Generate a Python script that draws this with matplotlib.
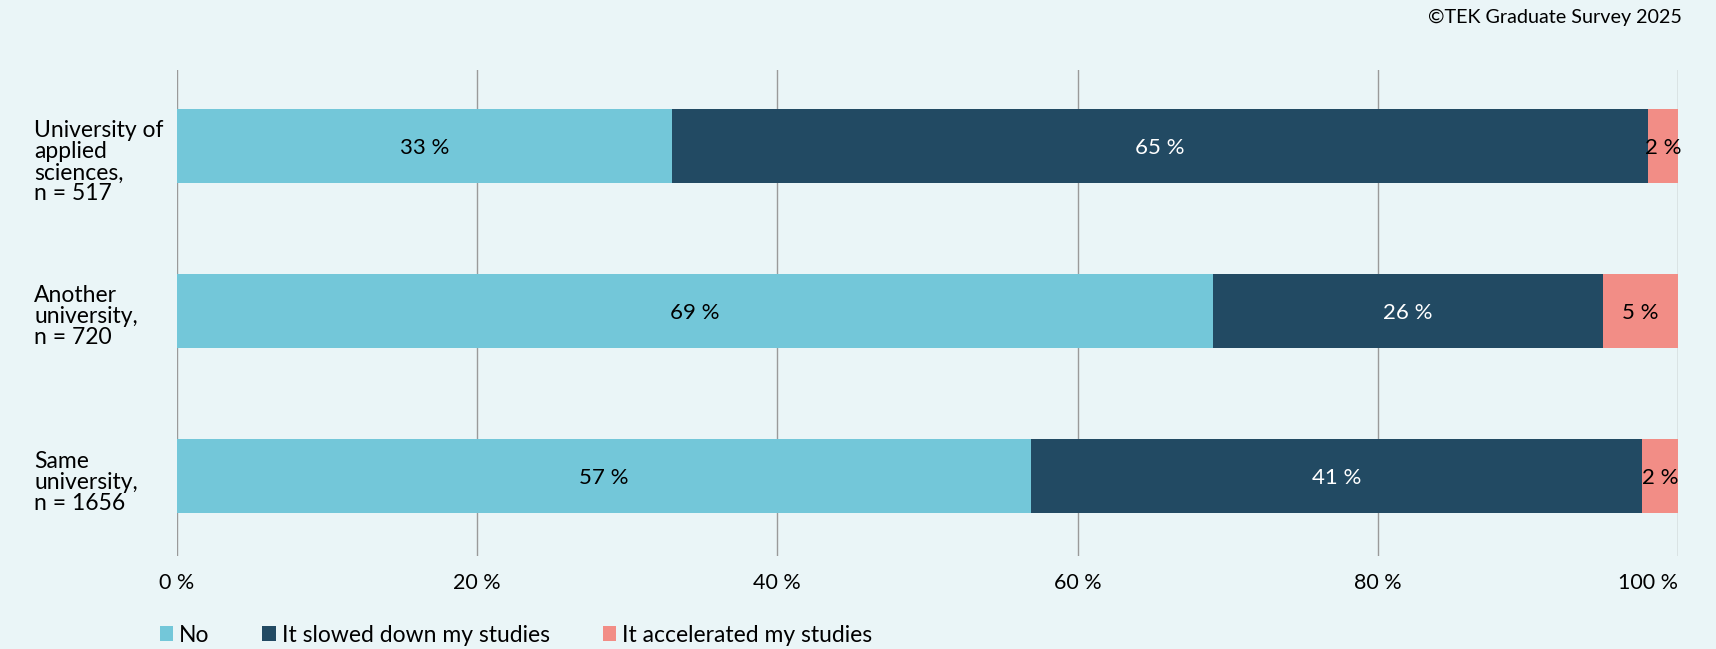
import matplotlib
matplotlib.use("Agg")
import matplotlib.pyplot as plt
from matplotlib.patches import Patch
import matplotlib.transforms as mtransforms

categories = ["University of\napplied\nsciences,\nn = 517",
              "Another\nuniversity,\nn = 720",
              "Same\nuniversity,\nn = 1656"]
series_names = ["No", "It slowed down my studies", "It accelerated my studies"]
no_vals = [33.0, 69.0, 56.9]
slowed_vals = [65.0, 26.0, 40.7]
accel_vals = [2.0, 5.0, 2.4]
value_labels = [["33 %", "65 %", "2 %"],
                ["69 %", "26 %", "5 %"],
                ["57 %", "41 %", "2 %"]]
x_ticks = [0, 20, 40, 60, 80, 100]
x_ticklabels = ["0 %", "20 %", "40 %", "60 %", "80 %", "100 %"]
source = "©TEK Graduate Survey 2025"

colors = ["#73C7D9", "#224A63", "#F28D86"]
text_colors = ["black", "white", "black"]
bg = "#EAF5F7"
FONT = "Lato"

plt.rcParams["font.family"] = [FONT, "DejaVu Sans"]

fig = plt.figure(figsize=(17.16, 6.49), dpi=100, facecolor=bg)
ax = fig.add_axes([0.103, 0.143, 0.875, 0.749])
ax.set_facecolor(bg)

ypos = list(range(len(categories)))
series = [no_vals, slowed_vals, accel_vals]
lefts = [0.0] * len(categories)
bar_h = 0.45
for si, vals in enumerate(series):
    ax.barh(ypos, vals, left=lefts, height=bar_h, color=colors[si],
            edgecolor="none", linewidth=0, zorder=3, label=series_names[si])
    for ci, v in enumerate(vals):
        ax.text(lefts[ci] + v / 2, ypos[ci], value_labels[ci][si],
                ha="center", va="center_baseline", fontsize=16, color=text_colors[si], zorder=4)
    lefts = [l + v for l, v in zip(lefts, vals)]

ax.set_xlim(0, 100)
ax.set_ylim(2.485, -0.46)
ax.set_xticks(x_ticks)
ax.set_xticklabels(x_ticklabels, fontsize=15.5)
ax.get_xticklabels()[-1].set_horizontalalignment("right")
ax.set_yticks([])
ax.tick_params(axis="x", length=0, pad=12)
ax.grid(axis="x", color="#9a9a9a", linewidth=1, zorder=1)
for s in ax.spines.values():
    s.set_visible(False)

trans = mtransforms.blended_transform_factory(fig.transFigure, ax.transData)
for ci, cat in enumerate(categories):
    ax.text(34 / 1716, ypos[ci] - bar_h / 2 + 0.07, cat, transform=trans,
            ha="left", va="top", fontsize=16.5, linespacing=1.0, color="black")

fig.text(1682 / 1716, 1 - 17 / 649, source, ha="right", va="center", fontsize=14.2)

handles = [Patch(facecolor=c, edgecolor="none") for c in colors]
fig.legend(handles, series_names, loc="center left", bbox_to_anchor=(139 / 1716, 1 - 635 / 649),
           ncol=3, frameon=False, fontsize=16.5, handlelength=0.6, handleheight=0.6,
           handletextpad=0.25, columnspacing=2.3)

fig.savefig("out.png", dpi=100, facecolor=bg)
